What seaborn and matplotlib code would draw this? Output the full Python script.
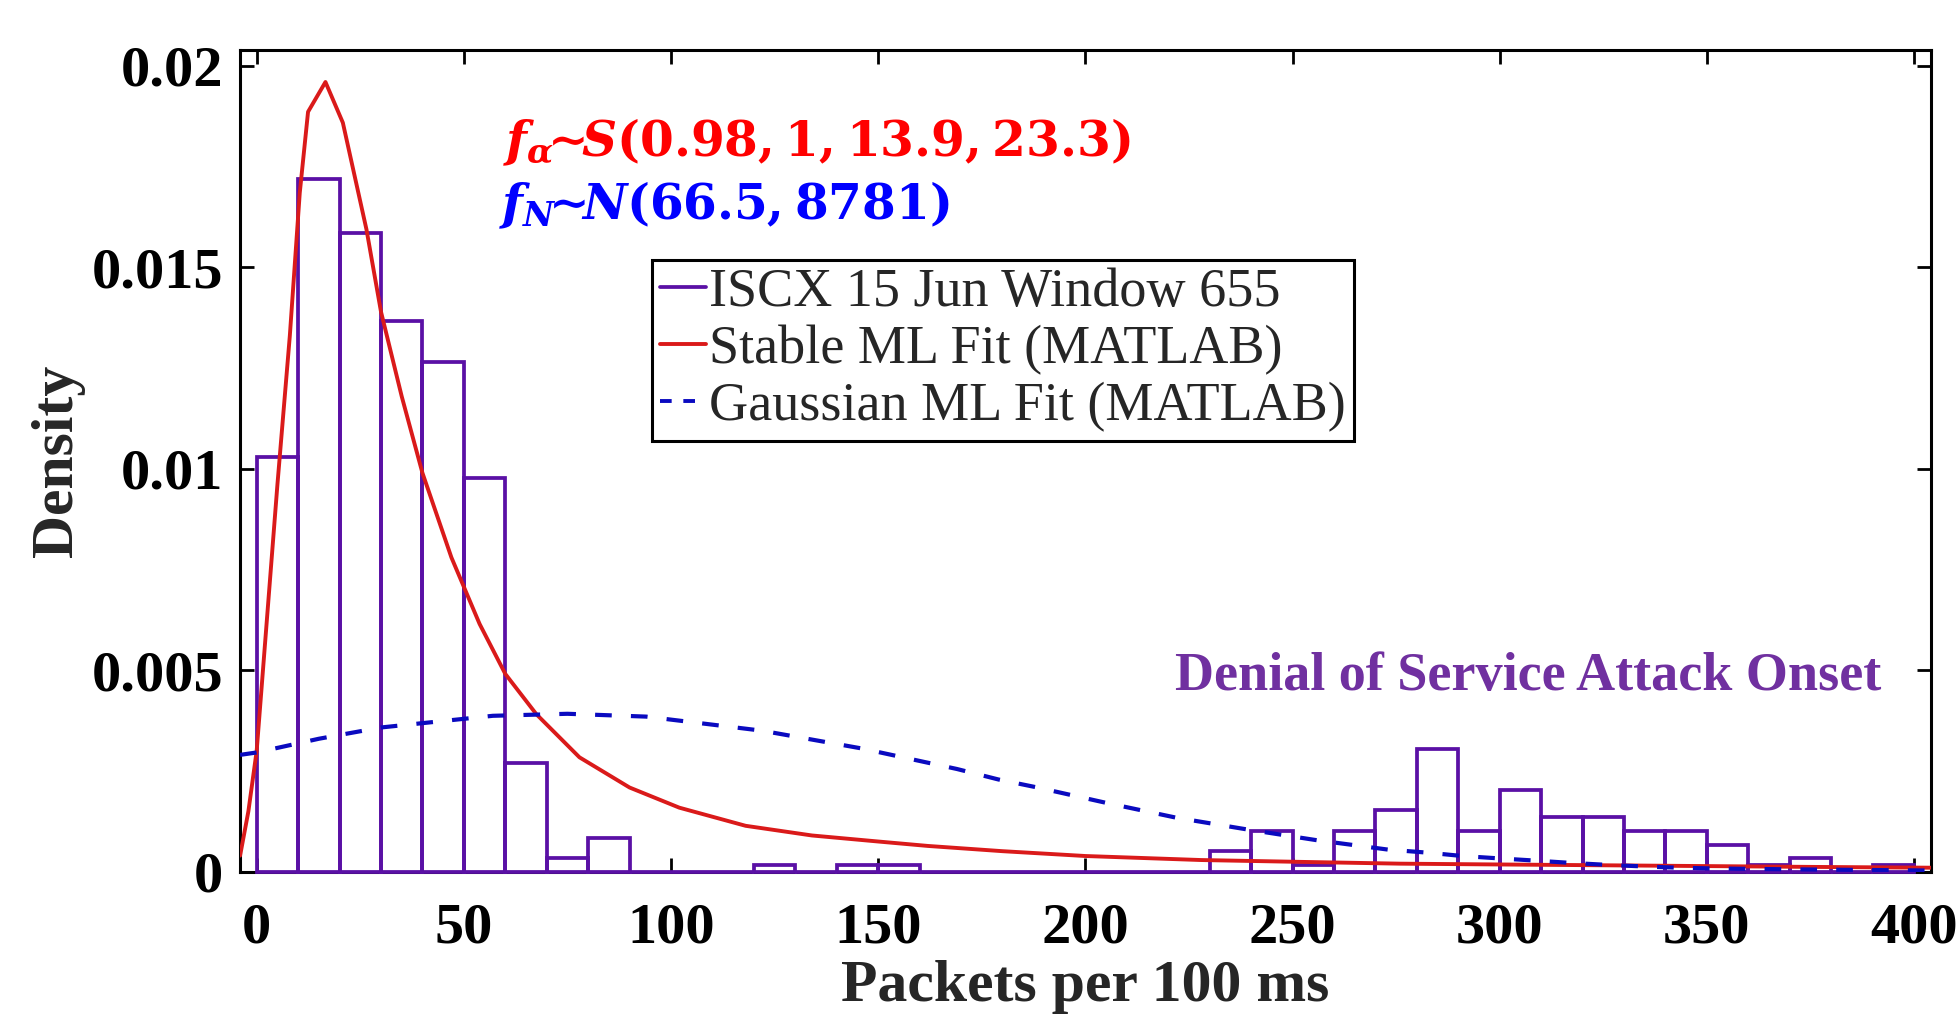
import numpy as np
import pandas as pd
import matplotlib
matplotlib.use("Agg")
import matplotlib.pyplot as plt
from matplotlib.lines import Line2D
import seaborn as sns

# histogram heights (density, 10-packet bins)
bin_left = list(range(0, 400, 10))
density = [0.01029, 0.01720, 0.01585, 0.01366, 0.01265, 0.00978, 0.00270, 0.00034, 0.00084, 0,
           0, 0, 0.00017, 0, 0.00017, 0.00017, 0, 0, 0, 0,
           0, 0, 0, 0.00051, 0.00101, 0.00017, 0.00101, 0.00152, 0.00304, 0.00101,
           0.00202, 0.00135, 0.00135, 0.00101, 0.00101, 0.00067, 0.00017, 0.00034, 0, 0.00017]

# stable ML fit curve
stable_x = [-4, -2, 0, 2.5, 5, 8, 10.4, 12.4, 16.6, 20.8, 26.5, 30, 35, 40, 47, 53.8, 60, 67.5,
            77.9, 90, 102, 118, 134, 150, 162, 180, 200, 228, 249, 276, 300, 325, 350, 375, 404]
stable_y = [0.0004, 0.0015, 0.0030, 0.0063, 0.0096, 0.0133, 0.01685, 0.01886, 0.0196, 0.01859,
            0.01594, 0.0139, 0.0118, 0.0099, 0.0078, 0.00615, 0.00491, 0.00391, 0.00284,
            0.00209, 0.00159, 0.00114, 0.00090, 0.00075, 0.00064, 0.00051, 0.00039, 0.00029,
            0.00025, 0.00020, 0.00018, 0.00016, 0.00014, 0.00012, 0.0001]

# gaussian ML fit curve
gauss_x = [-4, 0, 15, 30, 57, 75, 94, 122, 146, 169, 179, 188, 205, 222, 239, 256, 273, 283,
           291, 300, 308, 317, 326, 335, 343, 352, 370, 392, 404]
gauss_y = [0.00290, 0.00296, 0.00330, 0.00358, 0.00387, 0.00392, 0.00385, 0.00350, 0.00306,
           0.00255, 0.00229, 0.00210, 0.00171, 0.00134, 0.00105, 0.00078, 0.00055, 0.00047,
           0.00039, 0.00033, 0.00028, 0.00022, 0.00017, 0.00013, 0.00010, 0.00008, 0.00006,
           0.00004, 0.00003]

xticks = [0, 50, 100, 150, 200, 250, 300, 350, 400]
yticks = [0, 0.005, 0.01, 0.015, 0.02]
ytick_labels = ['0', '0.005', '0.01', '0.015', '0.02']

purple = '#5A10A5'
red = '#DA1A1A'
blue = '#0A0AC0'

sns.set_style('ticks')
plt.rcParams['font.family'] = ['Liberation Serif', 'DejaVu Serif']
plt.rcParams['mathtext.fontset'] = 'custom'
plt.rcParams['mathtext.rm'] = 'DejaVu Serif:bold'
plt.rcParams['mathtext.it'] = 'DejaVu Serif:bold:italic'
plt.rcParams['mathtext.bf'] = 'DejaVu Serif:bold'

fig = plt.figure(figsize=(19.6, 10.16), dpi=100)
ax = fig.add_axes([0.1225, 0.142, 0.8625, 0.809])

hist_df = pd.DataFrame({'x': np.array(bin_left) + 5, 'w': density})
sns.histplot(data=hist_df, x='x', weights='w', bins=list(range(0, 410, 10)), stat='count',
             fill=False, color=purple, linewidth=2.7, ax=ax, zorder=3)
for p in ax.patches:
    p.set_edgecolor(purple)
    p.set_clip_on(False)

sns.lineplot(x=stable_x, y=stable_y, color=red, linewidth=2.8, ax=ax, zorder=4)
sns.lineplot(x=gauss_x, y=gauss_y, color=blue, linewidth=3, linestyle=(0, (4, 4.6)),
             ax=ax, zorder=4)

ax.set_xlim(-4, 404)
ax.set_ylim(0, 0.0204)
ax.set_xticks(xticks)
ax.set_xticklabels([str(t) for t in xticks])
ax.set_yticks(yticks)
ax.set_yticklabels(ytick_labels)
ax.tick_params(direction='in', length=10, width=2, top=True, right=True,
               labelsize=42, colors='black')
ax.tick_params(axis='x', pad=22)
ax.tick_params(axis='y', pad=12)
for lab in ax.get_xticklabels() + ax.get_yticklabels():
    lab.set_fontweight('bold')
for s in ax.spines.values():
    s.set_linewidth(2.2)
    s.set_color('black')

ax.set_xlabel('Packets per 100 ms', fontsize=43, fontweight='bold', labelpad=4)
ax.set_ylabel('Density', fontsize=43, fontweight='bold', labelpad=5)

ax.text(59.5, 0.0181, r'$f_{\alpha}\!\!\sim\!\!S(0.98, 1, 13.9, 23.3)$', color='#FF0000',
        fontsize=35, va='center', ha='left')
ax.text(58.5, 0.01655, r'$f_{N}\!\!\sim\!\!N(66.5, 8781)$', color='#0000FF',
        fontsize=35, va='center', ha='left')
ax.text(392, 0.00484, 'Denial of Service Attack Onset', color='#7030A0',
        fontsize=39, fontweight='bold', ha='right', va='center')

handles = [Line2D([0], [0], color=purple, lw=2.7),
           Line2D([0], [0], color=red, lw=2.8),
           Line2D([0], [0], color=blue, lw=2.8, linestyle=(0, (3, 3)))]
labels = ['ISCX 15 Jun Window 655', 'Stable ML Fit (MATLAB)', 'Gaussian ML Fit (MATLAB)']
leg = ax.legend(handles, labels, loc='upper left', bbox_to_anchor=(0.2436, 0.7445),
                borderaxespad=0, fontsize=39, handlelength=0.85, handletextpad=0.05,
                labelspacing=0.12, borderpad=0.15, fancybox=False, framealpha=1,
                edgecolor='black')
leg.get_frame().set_linewidth(2.2)

fig.savefig('out.png', dpi=100)
